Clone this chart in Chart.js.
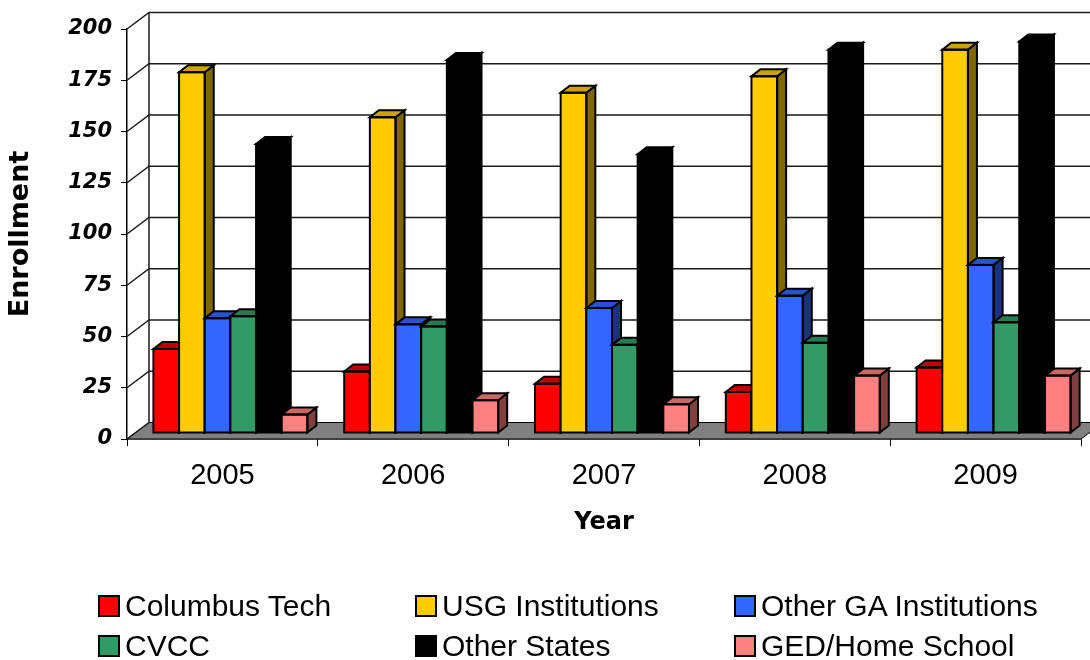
<!DOCTYPE html>
<html>
<head>
<meta charset="utf-8">
<script src="https://cdn.jsdelivr.net/npm/chart.js@4.4.1/dist/chart.umd.min.js"></script>
<style>
  body { margin: 0; background: #fff; }
  #wrap { position: relative; width: 1090px; height: 660px; }
  #legend { position: absolute; left: 0; top: 0; width: 1090px; height: 660px; pointer-events: none; }
  .item { position: absolute; display: flex; align-items: center; height: 30px;
          font: 30px "Liberation Sans", Arial, sans-serif; color: #000; white-space: nowrap; }
  .item i { display: inline-block; width: 22px; height: 22px; box-sizing: border-box;
            border: 2px solid #000; margin-right: 5px; }
</style>
</head>
<body>
<div id="wrap">
  <canvas id="chart" width="1090" height="660"></canvas>
  <div id="legend"></div>
</div>
<script>
// data
const years = ['2005', '2006', '2007', '2008', '2009'];
const columbusTech = [41, 30, 24, 20, 32];
const usgInstitutions = [176, 154, 166, 174, 187];
const otherGA = [56, 53, 61, 67, 82];
const cvcc = [57, 52, 43, 44, 54];
const otherStates = [141, 182, 136, 187, 191];
const gedHome = [9, 16, 14, 28, 28];
const yTicks = [0, 25, 50, 75, 100, 125, 150, 175, 200];

const names = ['Columbus Tech', 'USG Institutions', 'Other GA Institutions', 'CVCC', 'Other States', 'GED/Home School'];
const series = [columbusTech, usgInstitutions, otherGA, cvcc, otherStates, gedHome];
const fronts = ['#ff0000', '#ffcc00', '#3366ff', '#339966', '#000000', '#ff8080'];
const tops   = ['#c00000', '#cca300', '#2952cc', '#297a52', '#000000', '#cc6666'];
const sides  = ['#800000', '#806600', '#1a3380', '#1a4d33', '#000000', '#804040'];

// 3d look: wall depth, how far bars sit back, bar depth
const WX = 22, WY = 16.5;
const BX = 8, BY = 6;
const DX = 9, DY = 7;

const box3d = {
  id: 'box3d',
  beforeDatasetsDraw(chart) {
    const {ctx, chartArea: a, scales: {y}} = chart;
    ctx.save();
    // floor
    ctx.fillStyle = '#808080';
    ctx.strokeStyle = '#000';
    ctx.lineWidth = 1;
    ctx.beginPath();
    ctx.moveTo(a.left, a.bottom);
    ctx.lineTo(a.right, a.bottom);
    ctx.lineTo(a.right + WX, a.bottom - WY);
    ctx.lineTo(a.left + WX, a.bottom - WY);
    ctx.closePath();
    ctx.fill();
    ctx.stroke();
    // side wall and back wall grid
    ctx.strokeStyle = '#1a1a1a';
    ctx.lineWidth = 1.5;
    yTicks.forEach(v => {
      const py = y.getPixelForValue(v);
      ctx.beginPath();
      ctx.moveTo(a.left, py);
      ctx.lineTo(a.left + WX, py - WY);
      if (v > 0) ctx.lineTo(a.right + WX + 30, py - WY);
      ctx.stroke();
    });
    ctx.beginPath();
    ctx.moveTo(a.left + WX, y.getPixelForValue(200) - WY);
    ctx.lineTo(a.left + WX, a.bottom - WY);
    ctx.stroke();
    ctx.restore();
  },
  // the library lays the bars out (fronts left transparent), this draws them as boxes,
  // left to right so each bar hides the side of the one before it
  afterDatasetsDraw(chart) {
    const ctx = chart.ctx;
    ctx.save();
    ctx.translate(BX, -BY);
    ctx.strokeStyle = '#000';
    ctx.lineWidth = 2;
    chart.data.datasets.forEach((ds, i) => {
      chart.getDatasetMeta(i).data.forEach(bar => {
        const {x, y, width, base} = bar.getProps(['x', 'y', 'width', 'base'], true);
        const l = x - width / 2, r = x + width / 2;
        ctx.fillStyle = fronts[i];
        ctx.fillRect(l, y, width, base - y);
        ctx.fillStyle = sides[i];
        ctx.beginPath();
        ctx.moveTo(r, y); ctx.lineTo(r + DX, y - DY); ctx.lineTo(r + DX, base - DY); ctx.lineTo(r, base);
        ctx.closePath(); ctx.fill(); ctx.stroke();
        ctx.fillStyle = tops[i];
        ctx.beginPath();
        ctx.moveTo(l, y); ctx.lineTo(r, y); ctx.lineTo(r + DX, y - DY); ctx.lineTo(l + DX, y - DY);
        ctx.closePath(); ctx.fill(); ctx.stroke();
        ctx.strokeRect(l, y, width, base - y);
      });
    });
    ctx.restore();
  }
};

const datasets = series.map((d, i) => ({
  label: names[i],
  data: d,
  backgroundColor: 'rgba(0,0,0,0)',
  borderWidth: 0,
  categoryPercentage: 0.807,
  barPercentage: 1
}));

new Chart(document.getElementById('chart'), {
  type: 'bar',
  data: { labels: years, datasets: datasets },
  options: {
    responsive: false,
    animation: false,
    layout: { padding: { top: 29, right: 9, left: 0, bottom: 0 } },
    plugins: { legend: { display: false }, tooltip: { enabled: false } },
    scales: {
      x: {
        afterFit(s) { s.height = 221; },
        grid: { drawOnChartArea: false, offset: true, color: '#000', tickLength: 7 },
        border: { color: '#000', width: 1.5 },
        ticks: { color: '#000', padding: 13, font: { family: 'Liberation Sans', size: 29 } },
        title: { display: true, text: 'Year', color: '#000', padding: { top: 0, bottom: 123 },
                 font: { family: 'DejaVu Sans', size: 24, weight: 'bold' } }
      },
      y: {
        min: 0, max: 200,
        afterFit(s) { s.width = 127; },
        afterBuildTicks(s) { s.ticks = yTicks.map(v => ({ value: v })); },
        grid: { drawOnChartArea: false, color: '#000', tickLength: 6 },
        border: { color: '#000', width: 1.5 },
        ticks: { color: '#000', padding: 9,
                 font: { family: 'DejaVu Sans', size: 21, weight: 'bold', style: 'italic' } },
        title: { display: true, text: 'Enrollment', color: '#000', padding: { top: 5 },
                 font: { family: 'DejaVu Sans', size: 27, weight: 'bold' } }
      }
    }
  },
  plugins: [box3d]
});

// legend laid out in three columns like the original
const legendCols = [98, 415, 734];
const legendRows = [591, 631];
const legend = document.getElementById('legend');
names.forEach((n, i) => {
  const el = document.createElement('div');
  el.className = 'item';
  el.style.left = legendCols[i % 3] + 'px';
  el.style.top = legendRows[Math.floor(i / 3)] + 'px';
  el.innerHTML = '<i style="background:' + fronts[i] + '"></i>' + n;
  legend.appendChild(el);
});
</script>
</body>
</html>
